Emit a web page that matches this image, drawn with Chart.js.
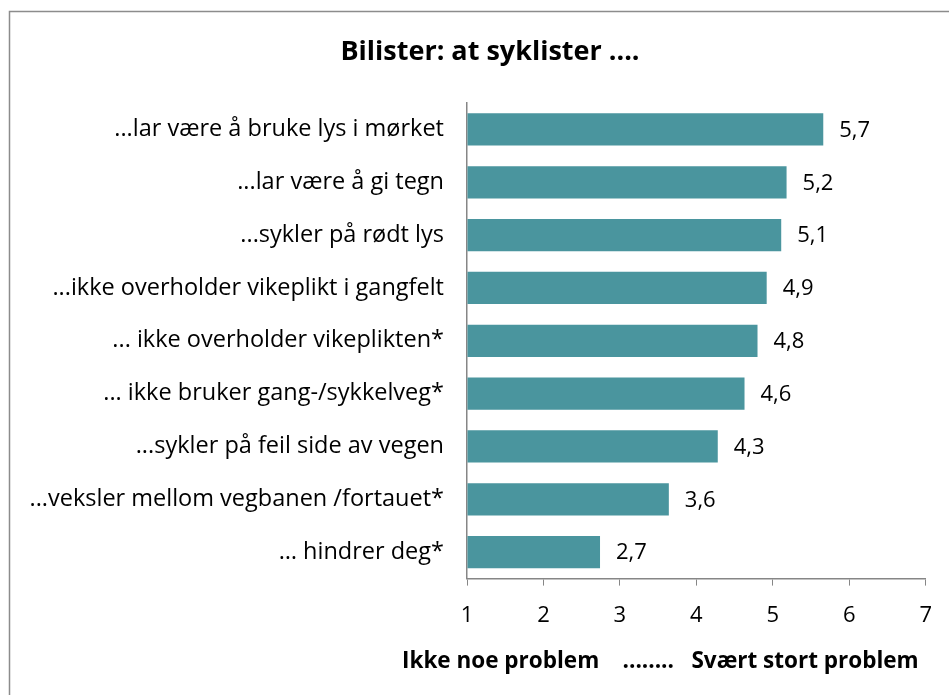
<!DOCTYPE html>
<html>
<head>
<meta charset="utf-8">
<script src="https://cdn.jsdelivr.net/npm/chart.js@4"></script>
<style>
  html, body { margin: 0; padding: 0; background: #fff; }
  #wrap { width: 949px; height: 695px; }
</style>
</head>
<body>
<div id="wrap"><canvas id="chart" width="949" height="695"></canvas></div>
<script>
// data
const categories = [
  '...lar være å bruke lys i mørket',
  '...lar være å gi tegn',
  '...sykler på rødt lys',
  '...ikke overholder vikeplikt i gangfelt',
  '... ikke overholder vikeplikten*',
  '... ikke bruker gang-/sykkelveg*',
  '...sykler på feil side av vegen',
  '...veksler mellom vegbanen /fortauet*',
  '… hindrer deg*',
];
const scores = [5.66, 5.18, 5.11, 4.92, 4.8, 4.63, 4.28, 3.64, 2.74];
const scaleMin = 1;
const scaleMax = 7;
const chartTitle = 'Bilister: at syklister ....';
const axisCaption = 'Ikke noe problem    ........   Svært stort problem';

const FONT = '"Open Sans", Lato, sans-serif';
const BAR = '#4a959e';
const AXIS = '#868686';

// ramme + tittel (tittelen står litt til høyre for midten, som i originalen)
const frame = {
  id: 'frame',
  beforeDraw(chart) {
    const ctx = chart.ctx;
    ctx.save();
    ctx.strokeStyle = '#8c8c8c';
    ctx.lineWidth = 1.5;
    ctx.strokeRect(9.5, 11.5, 960, 700);
    ctx.font = 'bold 27px ' + FONT;
    ctx.fillStyle = '#000';
    ctx.textAlign = 'center';
    ctx.textBaseline = 'middle';
    ctx.fillText(chartTitle, 490, 52);
    ctx.restore();
  },
};

// aksetekst under x-aksen – bredere enn plottet, så Chart.js sin tittel ville presset den sammen
const axisCaptionPlugin = {
  id: 'axisCaption',
  afterDraw(chart) {
    const ctx = chart.ctx;
    ctx.save();
    ctx.font = 'bold 22.5px ' + FONT;
    ctx.fillStyle = '#000';
    ctx.textAlign = 'right';
    ctx.textBaseline = 'middle';
    ctx.fillText(axisCaption, chart.chartArea.right - 7, 662);
    ctx.restore();
  },
};

// verdier til høyre for søylene
const valueLabels = {
  id: 'valueLabels',
  afterDatasetsDraw(chart) {
    const ctx = chart.ctx;
    const meta = chart.getDatasetMeta(0);
    ctx.save();
    ctx.font = '22px ' + FONT;
    ctx.fillStyle = '#000';
    ctx.textAlign = 'left';
    ctx.textBaseline = 'middle';
    meta.data.forEach((bar, i) => {
      const txt = scores[i].toFixed(1).replace('.', ',');
      ctx.fillText(txt, bar.x + 16, bar.y + 1);
    });
    ctx.restore();
  },
};

Chart.defaults.font.family = FONT;
Chart.defaults.color = '#000';

new Chart(document.getElementById('chart'), {
  type: 'bar',
  data: {
    labels: categories,
    datasets: [
      {
        data: scores,
        base: scaleMin,
        backgroundColor: BAR,
        barPercentage: 0.61,
        categoryPercentage: 1,
      },
    ],
  },
  options: {
    indexAxis: 'y',
    responsive: false,
    animation: false,
    layout: { padding: { left: 10, right: 12, top: 103, bottom: 49 } },
    plugins: {
      legend: { display: false },
      tooltip: { enabled: false },
      title: { display: false },
    },
    scales: {
      x: {
        min: scaleMin,
        max: scaleMax,
        ticks: { stepSize: 1, font: { size: 22 }, padding: 17, color: '#000' },
        grid: {
          drawOnChartArea: false,
          drawTicks: true,
          tickLength: 7,
          color: AXIS,
        },
        border: { color: AXIS, width: 1.5 },
      },
      y: {
        ticks: { font: { size: 23.5 }, padding: 15, color: '#000' },
        grid: { display: false },
        border: { color: AXIS, width: 1.5 },
        afterFit(scale) {
          scale.width = 457;
        },
      },
    },
  },
  plugins: [frame, axisCaptionPlugin, valueLabels],
});
</script>
</body>
</html>
